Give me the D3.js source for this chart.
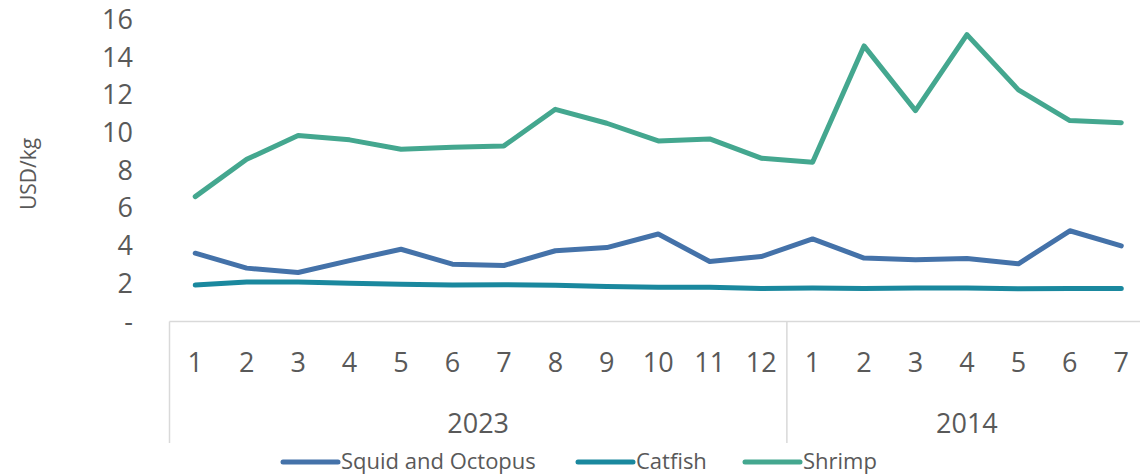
<!DOCTYPE html>
<html>
<head>
<meta charset="utf-8">
<script src="https://cdn.jsdelivr.net/npm/d3@7"></script>
<style>
  body { margin: 0; background: #fff; }
  svg text { font-family: "Open Sans", sans-serif; fill: #595959; }
</style>
</head>
<body>
<div id="chart"></div>
<script>
// data
const months = [1, 2, 3, 4, 5, 6, 7, 8, 9, 10, 11, 12, 1, 2, 3, 4, 5, 6, 7];
const years = [
  { label: "2023", count: 12 },
  { label: "2014", count: 7 }
];
const squid = [3.62, 2.83, 2.60, 3.23, 3.83, 3.04, 2.97, 3.75, 3.92, 4.64, 3.18, 3.44, 4.38, 3.36, 3.27, 3.34, 3.06, 4.81, 4.01];
const catfish = [1.93, 2.09, 2.09, 2.03, 1.98, 1.93, 1.95, 1.92, 1.85, 1.82, 1.82, 1.75, 1.77, 1.75, 1.77, 1.77, 1.74, 1.75, 1.75];
const shrimp = [6.62, 8.60, 9.86, 9.63, 9.13, 9.24, 9.31, 11.25, 10.51, 9.57, 9.68, 8.66, 8.44, 14.61, 11.18, 15.21, 12.28, 10.65, 10.54];
const yTicks = [0, 2, 4, 6, 8, 10, 12, 14, 16];

const series = [
  { name: "Squid and Octopus", values: squid, color: "#4472a9" },
  { name: "Catfish", values: catfish, color: "#1a889e" },
  { name: "Shrimp", values: shrimp, color: "#44a78f" }
];

const width = 1140, height = 476;
const svg = d3.select("#chart").append("svg")
  .attr("width", width)
  .attr("height", height);

const plotLeft = 169.5, plotRight = 1147, plotTop = 19.7, plotBottom = 321.5;

const x = d3.scaleBand()
  .domain(d3.range(months.length))
  .range([plotLeft, plotRight]);

const y = d3.scaleLinear()
  .domain([0, 16])
  .range([plotBottom, plotTop]);

// y tick labels (no axis line)
const yAxis = svg.append("g")
  .attr("transform", "translate(133,0)")
  .call(d3.axisLeft(y).tickValues(yTicks).tickSize(0).tickPadding(0)
    .tickFormat(d => d === 0 ? "-" : d));
yAxis.select(".domain").remove();
yAxis.selectAll("text")
  .style("font-size", "27px")
  .attr("fill", "#595959")
  .attr("font-family", null);

svg.append("text")
  .attr("transform", "translate(36,174) rotate(-90)")
  .attr("text-anchor", "middle")
  .style("font-size", "21px")
  .text("USD/kg");

// category axis: line, month labels, year groups
const axisG = svg.append("g");
axisG.append("line")
  .attr("x1", plotLeft).attr("x2", width)
  .attr("y1", plotBottom).attr("y2", plotBottom)
  .attr("stroke", "#d9d9d9").attr("stroke-width", 1.5);

axisG.selectAll(".month")
  .data(months)
  .enter().append("text")
  .attr("class", "month")
  .attr("x", (d, i) => x(i) + x.bandwidth() / 2)
  .attr("y", 372)
  .attr("text-anchor", "middle")
  .style("font-size", "27px")
  .text(d => d);

let start = 0;
years.forEach(yr => {
  const x0 = x(start);
  const x1 = start + yr.count < months.length ? x(start + yr.count) : plotRight;
  axisG.append("line")
    .attr("x1", x0).attr("x2", x0)
    .attr("y1", plotBottom).attr("y2", 443)
    .attr("stroke", "#d9d9d9").attr("stroke-width", 1.5);
  axisG.append("text")
    .attr("x", (x0 + x1) / 2)
    .attr("y", 433)
    .attr("text-anchor", "middle")
    .style("font-size", "27px")
    .text(yr.label);
  start += yr.count;
});

// lines
const line = d3.line()
  .x((d, i) => x(i) + x.bandwidth() / 2)
  .y(d => y(d));

svg.append("g")
  .selectAll("path")
  .data(series)
  .enter().append("path")
  .attr("d", d => line(d.values))
  .attr("fill", "none")
  .attr("stroke", d => d.color)
  .attr("stroke-width", 5)
  .attr("stroke-linejoin", "round")
  .attr("stroke-linecap", "round");

// legend
const legendX = [283, 578, 745];
const legend = svg.append("g")
  .selectAll("g")
  .data(series)
  .enter().append("g")
  .attr("transform", (d, i) => "translate(" + legendX[i] + ",462)");
legend.append("line")
  .attr("x1", 0).attr("x2", 55)
  .attr("stroke", d => d.color)
  .attr("stroke-width", 5)
  .attr("stroke-linecap", "round");
legend.append("text")
  .attr("x", 58)
  .attr("y", 7)
  .style("font-size", "22px")
  .text(d => d.name);
</script>
</body>
</html>
